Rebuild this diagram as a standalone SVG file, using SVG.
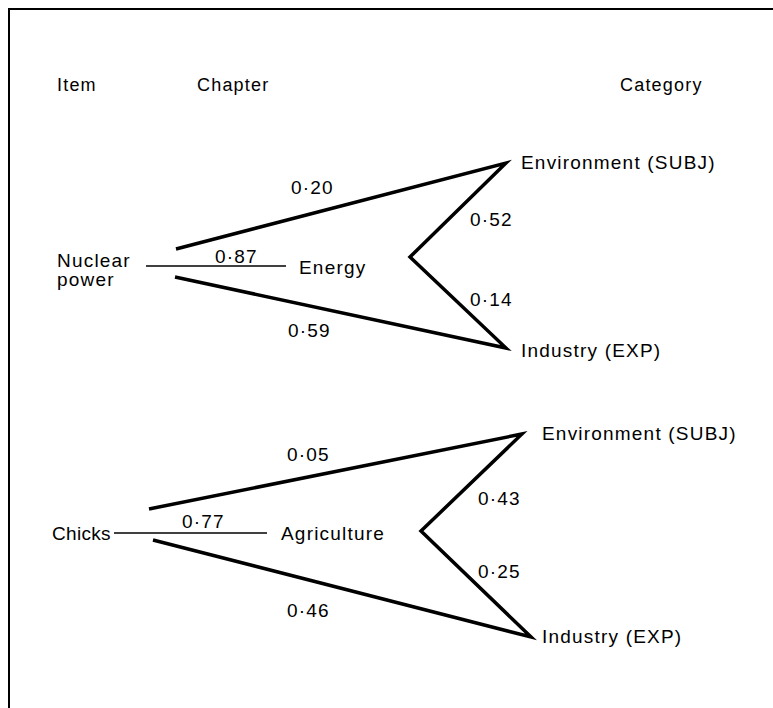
<svg xmlns="http://www.w3.org/2000/svg" width="773" height="708" viewBox="0 0 773 708">
<style>
  text { font-family: "Liberation Sans", Arial, sans-serif; font-size: 19px; fill: #000; letter-spacing: 1.2px; }
  .hdr { font-size: 18px; }
  .tight { letter-spacing: 0.3px; }
  .thick { fill: none; stroke: #000; stroke-width: 3.5; stroke-linejoin: miter; stroke-miterlimit: 20; }
  .thin { fill: none; stroke: #000; stroke-width: 1.5; }
  .frame { fill: none; stroke: #000; stroke-width: 2; }
</style>
<rect width="773" height="708" fill="#fff"/>
<path class="frame" d="M9,708 L9,9 L773,9"/>
<g id="headers">
  <text class="hdr" x="57" y="91">Item</text>
  <text class="hdr" x="197" y="91">Chapter</text>
  <text class="hdr" x="620" y="91">Category</text>
</g>
<g id="node-nuclear-power"><text x="57" y="267">Nuclear</text><text x="57" y="286">power</text></g>
<g id="node-energy"><text x="299" y="274">Energy</text></g>
<g id="node-env-1"><text x="521" y="169">Environment (SUBJ)</text></g>
<g id="node-ind-1"><text x="521" y="357">Industry (EXP)</text></g>
<g id="node-chicks"><text class="tight" x="52" y="540">Chicks</text></g>
<g id="node-agriculture"><text x="281" y="540">Agriculture</text></g>
<g id="node-env-2"><text x="542" y="440">Environment (SUBJ)</text></g>
<g id="node-ind-2"><text x="542" y="643">Industry (EXP)</text></g>
<g id="connectors">
  <polyline class="thick" points="176,249 506,163 410,257 506,348 175,277"/>
  <line class="thin" x1="146" y1="266" x2="286" y2="266"/>
  <polyline class="thick" points="149,509 522,434 421,531 531,637 153,540"/>
  <line class="thin" x1="114" y1="533" x2="267" y2="533"/>
  <g id="edge-labels">
    <text x="291" y="194">0·20</text>
    <text x="470" y="226">0·52</text>
    <text x="215" y="263">0·87</text>
    <text x="470" y="306">0·14</text>
    <text x="288" y="337">0·59</text>
    <text x="287" y="461">0·05</text>
    <text x="478" y="505">0·43</text>
    <text x="182" y="528">0·77</text>
    <text x="478" y="578">0·25</text>
    <text x="287" y="617">0·46</text>
  </g>
</g>
</svg>
